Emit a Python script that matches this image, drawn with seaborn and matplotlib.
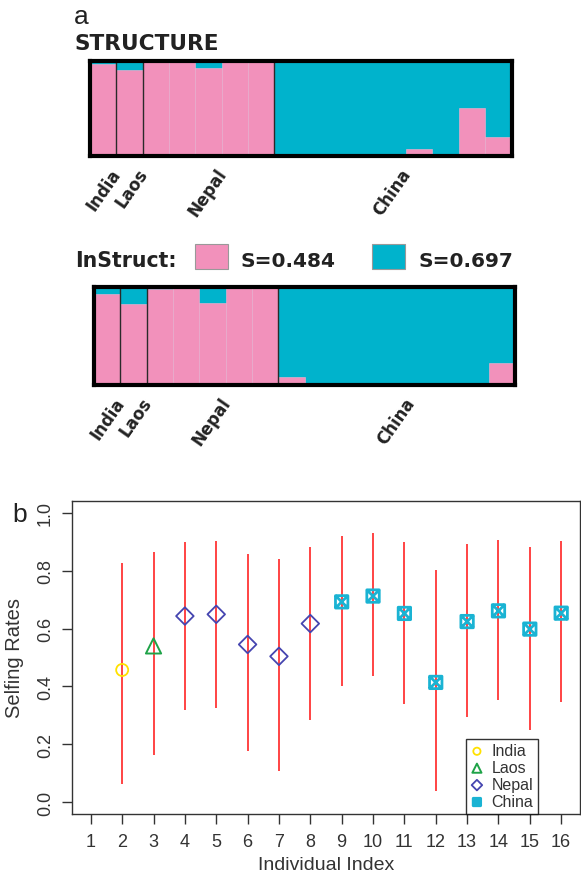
import matplotlib
matplotlib.use('Agg')
import matplotlib.pyplot as plt
import numpy as np
import pandas as pd
import seaborn as sns
from matplotlib.path import Path
from matplotlib.patches import Rectangle
from matplotlib.transforms import blended_transform_factory, offset_copy


# panel a: admixture proportions (pink cluster share per individual)
populations = ['India', 'Laos', 'Nepal', 'China']
pop_counts = [1, 1, 5, 9]
structure_pink = [0.96, 0.90, 0.98, 0.99, 0.92, 0.99, 0.99,
                  0.0, 0.02, 0.0, 0.0, 0.01, 0.065, 0.0, 0.50, 0.19]
instruct_pink = [0.93, 0.83, 0.98, 0.99, 0.84, 0.99, 0.99,
                 0.08, 0.0, 0.01, 0.0, 0.0, 0.01, 0.025, 0.0, 0.22]
s_labels = ['S=0.484', 'S=0.697']

# panel b: selfing rates with credible intervals
individual = [2, 3, 4, 5, 6, 7, 8, 9, 10, 11, 12, 13, 14, 15, 16]
individual_pop = ['India', 'Laos'] + ['Nepal'] * 5 + ['China'] * 8
selfing_mean = [0.457, 0.540, 0.643, 0.649, 0.545, 0.504, 0.617, 0.692,
                0.712, 0.652, 0.414, 0.624, 0.661, 0.598, 0.653]
selfing_low = [0.063, 0.165, 0.318, 0.325, 0.179, 0.110, 0.286, 0.403,
               0.437, 0.338, 0.040, 0.296, 0.354, 0.249, 0.346]
selfing_high = [0.827, 0.864, 0.898, 0.903, 0.856, 0.841, 0.883, 0.919,
                0.928, 0.900, 0.803, 0.892, 0.907, 0.880, 0.903]
x_ticks = list(range(1, 17))
y_ticks = [0.0, 0.2, 0.4, 0.6, 0.8, 1.0]

W, H = 581, 878
pink = '#F291BB'
cyan = '#00B3CC'
red = '#FF3535'
grey = '#333333'
heavy = ['DejaVu Sans']

sns.set_theme(style='white')
plt.rcParams['font.family'] = ['Liberation Sans', 'DejaVu Sans']

fig = plt.figure(figsize=(W / 100, H / 100), dpi=100)


# pixel box (left, top, right, bottom) -> figure fraction rect
def box(l, t, r, b):
    return [l / W, 1 - b / H, (r - l) / W, (b - t) / H]


def fx(x):
    return x / W


def fy(y):
    return 1 - y / H


# stacked admixture bars with population labels underneath
def admixture(ax, pink_frac):
    n = len(pink_frac)
    df = pd.DataFrame({'ind': np.arange(n), 'pink': pink_frac, 'all': np.ones(n)})
    sns.barplot(data=df, x='ind', y='all', color=cyan, saturation=1, width=1,
                linewidth=0, ax=ax)
    sns.barplot(data=df, x='ind', y='pink', color=pink, saturation=1, width=1,
                edgecolor='#F6B3D1', linewidth=0.4, ax=ax)

    ends = np.cumsum(pop_counts)
    for e in ends[:-1]:
        ax.axvline(e - 0.5, color='#2a2a2a', lw=1.0)

    trans = blended_transform_factory(ax.transData, ax.transAxes)
    trans = offset_copy(trans, fig=fig, x=7, y=-9, units='dots')
    starts = ends - np.array(pop_counts)
    for name, s, e in zip(populations, starts, ends):
        ax.text((s + e - 1) / 2, 0, name, transform=trans, rotation=55,
                rotation_mode='anchor', ha='right', va='top',
                fontsize=12, fontweight='bold', family=heavy, color='#222')

    ax.set_xlim(-0.5, n - 0.5)
    ax.set_ylim(0, 1)
    ax.set_xticks([])
    ax.set_yticks([])
    ax.set_xlabel('')
    ax.set_ylabel('')
    for sp in ax.spines.values():
        sp.set_color('black')
        sp.set_linewidth(3)
        sp.set_visible(True)


ax1 = fig.add_axes(box(90, 61.5, 511.5, 156.5))
admixture(ax1, structure_pink)
ax2 = fig.add_axes(box(94, 288, 515, 386))
admixture(ax2, instruct_pink)

fig.text(fx(74), fy(24), 'a', fontsize=19, color='#222')
fig.text(fx(75), fy(50), 'STRUCTURE', fontsize=15.6, fontweight='bold',
         family=heavy, color='#222')
fig.text(fx(75), fy(267), 'InStruct:', fontsize=14.8, fontweight='bold',
         family=heavy, color='#222')
for left, col, lab, tx in [(195, pink, s_labels[0], 240), (372, cyan, s_labels[1], 418)]:
    fig.add_artist(Rectangle((fx(left), fy(270)), 33 / W, 25 / H,
                             transform=fig.transFigure, facecolor=col,
                             edgecolor='#999999', lw=0.8))
    fig.text(fx(tx), fy(267), lab, fontsize=14.5, fontweight='bold',
             family=heavy, color='#222')

# panel b
ax3 = fig.add_axes(box(72, 502, 580, 815))
dfb = pd.DataFrame({'ind': individual, 'pop': individual_pop, 'mean': selfing_mean,
                    'low': selfing_low, 'high': selfing_high})
ax3.vlines(dfb['ind'], dfb['low'], dfb['high'], color=red, lw=1.3, zorder=2)

box_x = Path([(-1, -1), (1, -1), (1, 1), (-1, 1), (-1, -1),
              (-1, -1), (1, 1), (-1, 1), (1, -1)],
             [Path.MOVETO, Path.LINETO, Path.LINETO, Path.LINETO, Path.CLOSEPOLY,
              Path.MOVETO, Path.LINETO, Path.MOVETO, Path.LINETO])
styles = {
    'India': ('o', '#FFE100', 75, 1.3),
    'Laos': ('^', '#1FA348', 120, 1.4),
    'Nepal': ('D', '#4545B0', 80, 1.3),
    'China': (box_x, '#1AB3D3', 80, 2.0),
}
for name in populations:
    m, c, s, lw = styles[name]
    sub = dfb[dfb['pop'] == name]
    sns.scatterplot(data=sub, x='ind', y='mean', marker=m, s=s, facecolor='none',
                    edgecolor=c, linewidth=lw, label=name, ax=ax3, zorder=3)

ax3.set_xlim(0.4, 16.6)
ax3.set_ylim(-0.04, 1.04)
ax3.set_xticks(x_ticks)
ax3.set_xticklabels([str(t) for t in x_ticks])
ax3.set_yticks(y_ticks)
ax3.set_yticklabels(['%.1f' % t for t in y_ticks], rotation=90, va='center')
ax3.tick_params(bottom=True, left=True, direction='out', length=7, width=1,
                color=grey, labelcolor=grey, labelsize=13)
ax3.tick_params(axis='x', pad=7)
ax3.tick_params(axis='y', pad=6)
ax3.set_xlabel('Individual Index', fontsize=14, color=grey, labelpad=4)
ax3.set_ylabel('Selfing Rates', fontsize=14.5, color=grey, labelpad=9)
for sp in ax3.spines.values():
    sp.set_color(grey)
    sp.set_linewidth(1)
ax3.grid(False)

leg = ax3.legend(loc='lower right', bbox_to_anchor=(0.917, 0.0), frameon=True,
                 fancybox=False, edgecolor='black', fontsize=11.5, markerscale=0.6,
                 handlelength=0.8, handletextpad=0.5, labelspacing=0.12,
                 borderpad=0.3, borderaxespad=0)
leg.get_frame().set_linewidth(1.0)
for t in leg.get_texts():
    t.set_color(grey)

fig.text(fx(12), fy(522), 'b', fontsize=19, color='#222')

fig.savefig('out.png', dpi=100)
